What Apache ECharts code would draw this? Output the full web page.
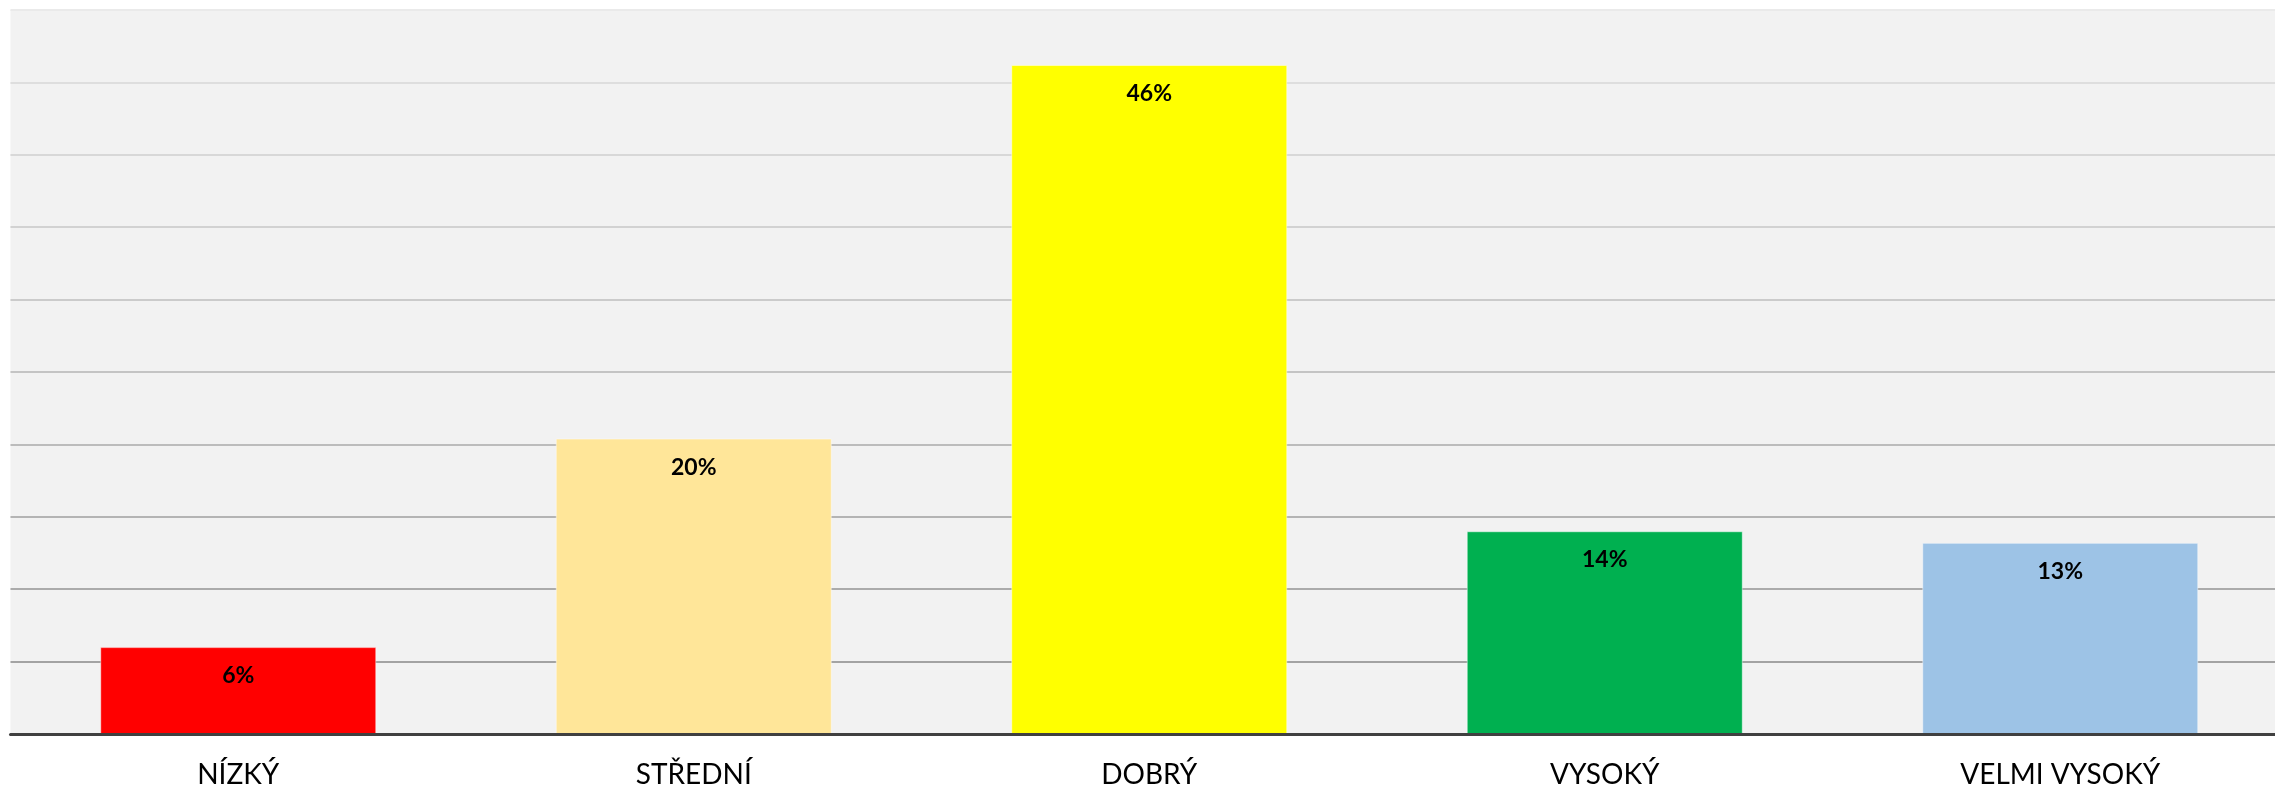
<!DOCTYPE html>
<html>
<head>
<meta charset="utf-8">
<script src="https://cdn.jsdelivr.net/npm/echarts@6/dist/echarts.min.js"></script>
<style>
  html, body { margin: 0; padding: 0; background: #fff; overflow: hidden; }
  #chart { width: 2288px; height: 789px; }
</style>
</head>
<body>
<div id="chart"></div>
<script>
// kategorie a hodnoty (v %)
var categories = ["NÍZKÝ", "STŘEDNÍ", "DOBRÝ", "VYSOKÝ", "VELMI VYSOKÝ"];
var values = [6.0, 20.4, 46.2, 14.0, 13.2];
var barColors = ["#ff0000", "#ffe699", "#ffff00", "#00b050", "#9dc3e6"];

// gridlines get lighter towards the top, like in the original
var gridColors = ["#9a9a9a", "#a3a3a3", "#ababab", "#b4b4b4", "#bcbcbc",
                  "#c4c4c4", "#cbcbcb", "#d2d2d2", "#d8d8d8", "#dedede", "#eaeaea"];

var myChart = echarts.init(document.getElementById("chart"));

var option = {
  animation: false,
  grid: {
    left: 10.5,
    right: 0,
    top: 10,
    bottom: 54,
    show: true,
    backgroundColor: "#f2f2f2",
    borderWidth: 0
  },
  xAxis: {
    type: "category",
    data: categories,
    axisTick: { show: false },
    axisLine: { lineStyle: { color: "#404040", width: 3 } },
    axisLabel: {
      color: "#000",
      fontFamily: "Lato",
      fontSize: 28,
      margin: 27
    },
    z: 10
  },
  yAxis: {
    type: "value",
    min: 0,
    max: 50,
    interval: 5,
    axisLabel: { show: false },
    axisLine: { show: false },
    axisTick: { show: false },
    splitLine: {
      show: true,
      lineStyle: { color: gridColors, width: 2 }
    }
  },
  series: [
    {
      type: "bar",
      barWidth: 276,
      data: values.map(function (v, i) {
        return {
          value: v,
          itemStyle: {
            color: barColors[i],
            borderColor: "rgba(255,255,255,0.45)",
            borderWidth: 1
          }
        };
      }),
      label: {
        show: true,
        position: "insideTop",
        distance: 17,
        color: "#000",
        fontFamily: "Lato",
        fontWeight: "bold",
        fontSize: 23,
        formatter: function (p) {
          return Math.round(p.value) + "%";
        }
      }
    }
  ]
};

myChart.setOption(option);
</script>
</body>
</html>
